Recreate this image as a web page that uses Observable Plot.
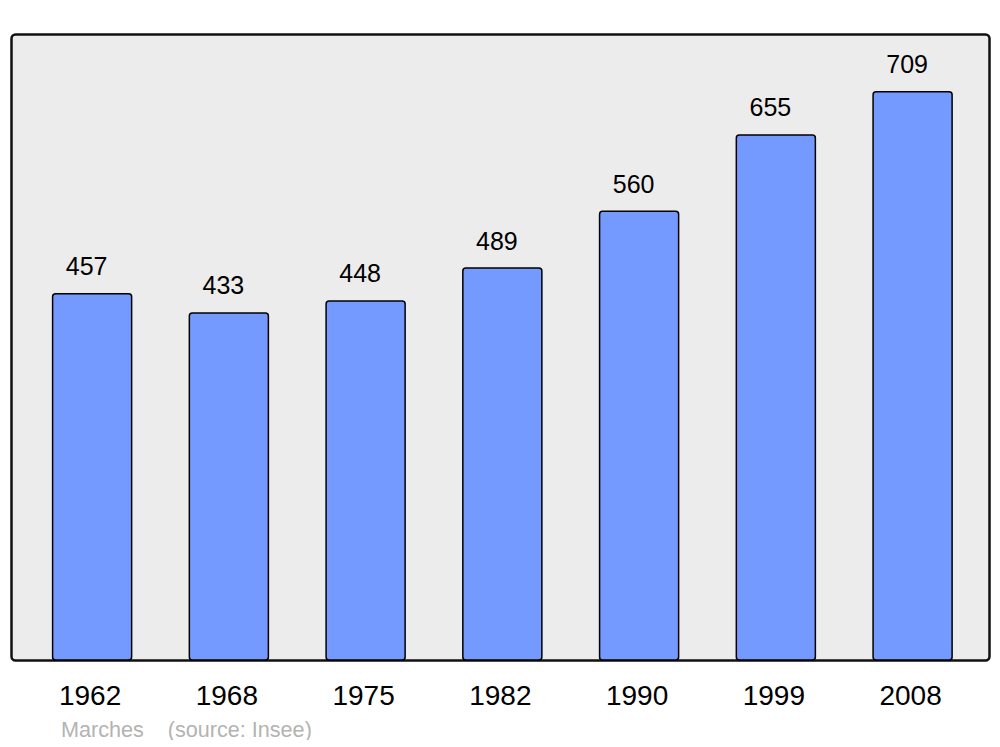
<!DOCTYPE html>
<html>
<head>
<meta charset="utf-8">
<script src="https://cdn.jsdelivr.net/npm/d3@7"></script>
<script src="https://cdn.jsdelivr.net/npm/@observablehq/plot@0.6"></script>
<style>
  html, body { margin: 0; padding: 0; background: #ffffff; }
  #chart { width: 1000px; }
  #caption {
    font-family: "Liberation Sans", Arial, sans-serif;
    font-size: 21.6px;
    line-height: 21px;
    color: #b3b3b3;
    white-space: pre;
    margin-top: 4px;
    padding-left: 61px;
  }
</style>
</head>
<body>
<div id="chart"></div>
<div id="caption">Marches    (source: Insee)</div>
<script>
const years = ["1962", "1968", "1975", "1982", "1990", "1999", "2008"];
const population = [457, 433, 448, 489, 560, 655, 709];

const data = years.map((year, i) => ({year, value: population[i]}));

const chart = Plot.plot({
  width: 1000,
  height: 715,
  marginTop: 34,
  marginBottom: 55,
  marginLeft: 11,
  marginRight: 11,
  style: {
    fontFamily: "Liberation Sans, Arial, sans-serif",
    background: "#ffffff",
    color: "#000000"
  },
  x: {
    domain: years,
    paddingInner: 0.422,
    paddingOuter: 0.287,
    align: 0.53,
    round: false,
    label: null
  },
  y: {
    domain: [0, 781],
    axis: null
  },
  marks: [
    Plot.frame({fill: "#ececec", stroke: "#111111", strokeWidth: 2.5, rx: 4}),
    Plot.barY(data, {x: "year", y: "value", fill: "#7499ff", stroke: "#000000", strokeWidth: 1.5, rx: 3}),
    Plot.text(data, {x: "year", y: "value", text: d => String(d.value), lineAnchor: "bottom", dy: -19, dx: -6, fontSize: 25, fill: "#000000"}),
    Plot.axisX({tickSize: 0, tickPadding: 25, dx: -2.5, fontSize: 28, label: null, fill: "#000000"})
  ]
});

document.getElementById("chart").appendChild(chart);
</script>
</body>
</html>
